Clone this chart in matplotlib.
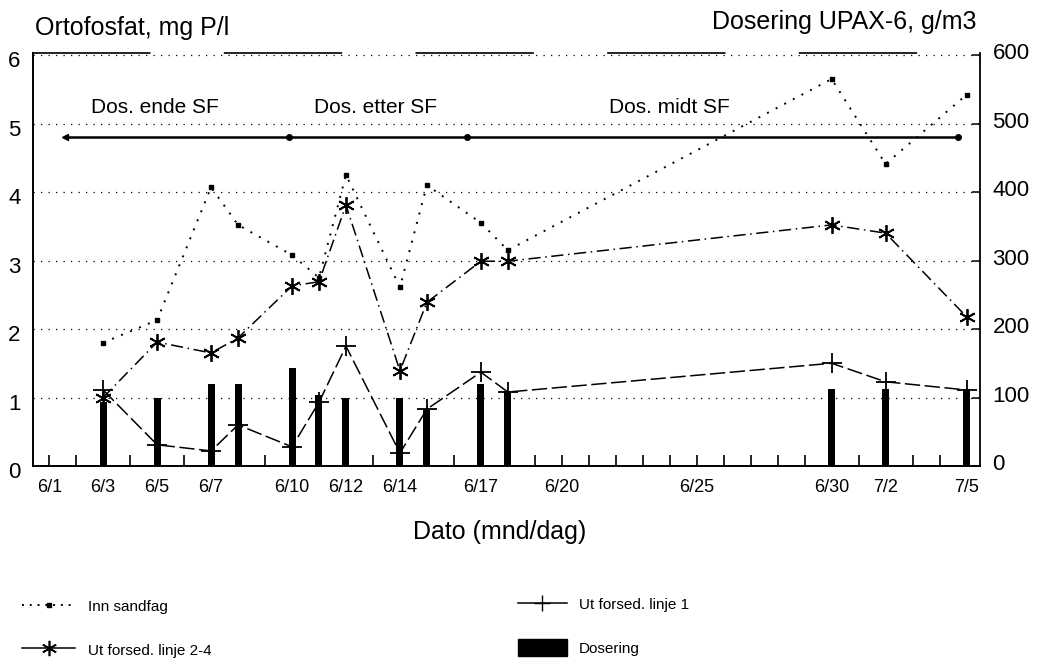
import matplotlib
matplotlib.use("Agg")
import matplotlib.pyplot as plt
import matplotlib.transforms as mtransforms
from matplotlib.ticker import MultipleLocator
from matplotlib.lines import Line2D
from matplotlib.patches import Patch

plt.rcParams["font.family"] = ["Liberation Sans", "DejaVu Sans"]

# Sampling days (day of June; July days continue the count: 7/2 = 32, 7/5 = 35)
days = [3, 5, 7, 8, 10, 11, 12, 14, 15, 17, 18, 30, 32, 35]

# Orthophosphate, mg P/l
inn_sandfag = [1.80, 2.13, 4.07, 3.52, 3.08, 2.75, 4.25, 2.61, 4.10, 3.55, 3.15, 5.65, 4.41, 5.42]
ut_linje_2_4 = [1.00, 1.81, 1.65, 1.87, 2.63, 2.69, 3.81, 1.39, 2.39, 2.99, 2.99, 3.52, 3.40, 2.18]
ut_linje_1 = [1.11, 0.31, 0.22, 0.60, 0.28, 0.93, 1.75, 0.19, 0.83, 1.37, 1.08, 1.50, 1.23, 1.11]

# UPAX-6 dosage, g/m3
dosering = [93, 100, 120, 120, 143, 104, 100, 100, 82, 120, 110, 112, 112, 112]

# Date axis
tick_days = [1, 3, 5, 7, 10, 12, 14, 17, 20, 25, 30, 32, 35]
tick_labels = ["6/1", "6/3", "6/5", "6/7", "6/10", "6/12", "6/14", "6/17",
               "6/20", "6/25", "6/30", "7/2", "7/5"]

# Dosing periods (start/end days) and their names
period_edges = [1.6, 9.9, 16.5, 34.7]
period_names = ["Dos. ende SF", "Dos. etter SF", "Dos. midt SF"]
period_name_x = [4.9, 13.1, 24.0]

W, H = 1041, 664
fig = plt.figure(figsize=(W / 100, H / 100), dpi=100)
ax = fig.add_axes([33 / W, 1 - 466 / H, (980 - 33) / W, (466 - 53) / H])
ax2 = ax.twinx()
ax.set_zorder(ax2.get_zorder() + 1)
ax.patch.set_visible(False)

# Dosage bars on the right-hand axis
ax2.bar(days, dosering, width=0.26, color="black", zorder=2)
ax2.set_ylim(0, 603)
ax2.set_yticks(range(0, 601, 100))
ax2.tick_params(axis="y", direction="in", length=6, width=1.1, pad=9, labelsize=16)
for side in ("top", "left", "bottom"):
    ax2.spines[side].set_visible(False)
ax2.spines["right"].set_linewidth(1.3)

# Phosphate series on the left-hand axis
ax.plot(days, inn_sandfag, color="black", linestyle=(0, (1, 4)), lw=1.4,
        marker="s", ms=3.5, zorder=4)
ax.plot(days, ut_linje_2_4, color="black", linestyle=(0, (8, 3, 1, 3)), lw=1.1,
        marker=(6, 2, 0), ms=12, mew=1.3, zorder=4)
ax.plot(days, ut_linje_1, color="black", linestyle=(0, (10, 3)), lw=1.1,
        marker="+", ms=14, mew=1.3, zorder=4)

# Dosing period band
PERIOD_LEVEL = 4.8
ax.plot([period_edges[0], period_edges[-1]], [PERIOD_LEVEL, PERIOD_LEVEL],
        color="black", lw=1.8, zorder=3)
ax.plot(period_edges[1:], [PERIOD_LEVEL] * (len(period_edges) - 1), "o",
        color="black", ms=4, zorder=3)
ax.plot([period_edges[0]], [PERIOD_LEVEL], "<", color="black", ms=4, zorder=3)
for name, x in zip(period_names, period_name_x):
    ax.text(x, 5.24, name, ha="center", va="center", fontsize=15)

ax.set_xlim(0.4, 35.5)
ax.set_ylim(0, 6.03)
ax.set_yticks(range(0, 7))
ax.set_xticks(tick_days, tick_labels)
ax.xaxis.set_minor_locator(MultipleLocator(1))
ax.tick_params(axis="x", which="both", direction="in", length=8, width=1.2,
               pad=9, labelsize=13)
ax.tick_params(axis="y", length=0, pad=9, labelsize=16)
ax.grid(axis="y", color="black", linestyle=(0, (1, 5)), lw=0.9)

ax.spines["right"].set_visible(False)
ax.spines["left"].set_linewidth(1.4)
ax.spines["bottom"].set_linewidth(1.4)
ax.spines["top"].set_linewidth(1.2)
ax.spines["top"].set_linestyle((0, (70, 45)))

# Nudge tick labels the way they sit on the printed scale
down = mtransforms.ScaledTranslation(0, -4 / 100, fig.dpi_scale_trans)
up = mtransforms.ScaledTranslation(0, 4 / 100, fig.dpi_scale_trans)
for lbl in ax.get_yticklabels():
    lbl.set_transform(lbl.get_transform() + down)
for lbl in ax2.get_yticklabels():
    lbl.set_transform(lbl.get_transform() + up)

fig.text(35 / W, 1 - 28 / H, "Ortofosfat, mg P/l", fontsize=18, ha="left", va="center")
fig.text(976 / W, 1 - 22 / H, "Dosering UPAX-6, g/m3", fontsize=18, ha="right", va="center")
fig.text(500 / W, 1 - 532 / H, "Dato (mnd/dag)", fontsize=18, ha="center", va="center")

# Legend in two columns below the plot
h_inn = Line2D([], [], color="black", linestyle=(0, (1, 3)), lw=1.4, marker="s", ms=3)
h_24 = Line2D([], [], color="black", linestyle="-", lw=1.1, marker=(6, 2, 0), ms=11, mew=1.2)
h_1 = Line2D([], [], color="black", linestyle="-", lw=1.1, marker="+", ms=12, mew=1.0)
h_dos = Patch(facecolor="black", edgecolor="black")

leg_kw = dict(frameon=False, fontsize=11, handletextpad=0.8,
              handleheight=1.3, labelspacing=1.75, borderpad=0, borderaxespad=0)
fig.legend([h_inn, h_24], ["Inn sandfag", "Ut forsed. linje 2-4"], loc="upper left",
           bbox_to_anchor=(22 / W, 1 - 598 / H), handlelength=3.5, **leg_kw)
fig.legend([h_1, h_dos], ["Ut forsed. linje 1", "Dosering"], loc="upper left",
           bbox_to_anchor=(518 / W, 1 - 596 / H), handlelength=3.2, **leg_kw)

fig.savefig("out.png", dpi=100)
